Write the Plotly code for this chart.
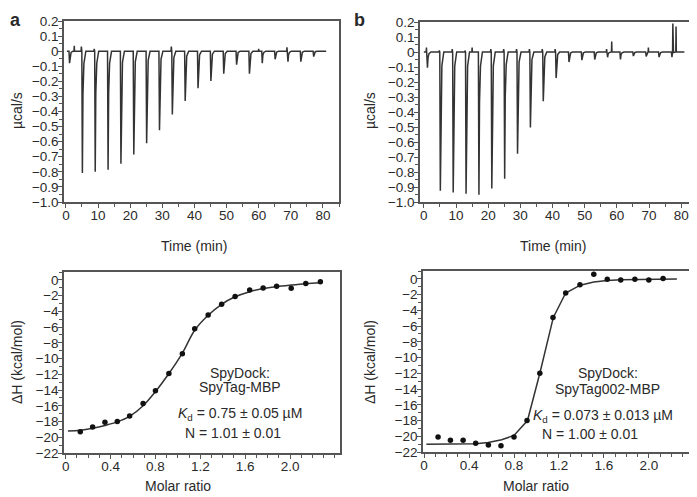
import plotly.graph_objects as go

W, H = 697, 497
OFF = 8  # page body margin: the figure is drawn 8 px right and down of the window corner

# ---- raw thermograms (injection every 4 min) ----
inj_t = [1, 5, 9, 13, 17, 21, 25, 29, 33, 37, 41, 45, 49, 53, 57, 61, 65, 69, 73, 77]
peaks_a = [-0.08, -0.808, -0.80, -0.786, -0.746, -0.685, -0.61, -0.525, -0.42, -0.33,
           -0.245, -0.197, -0.15, -0.09, -0.15, -0.08, -0.054, -0.07, -0.07, -0.036]
peaks_b = [-0.105, -0.925, -0.936, -0.945, -0.951, -0.91, -0.845, -0.678, -0.504, -0.328,
           -0.174, -0.067, -0.054, -0.05, -0.035, -0.05, -0.027, -0.03, -0.034, -0.034]

# small upward artefacts
spike_t_a = [2.6, 4.8, 8.8, 32.8, 60.0, 68.8]
spike_h_a = [0.035, 0.03, 0.015, 0.03, 0.015, 0.025]
spike_t_b = [0.8, 4.8, 8.8, 12.8, 15.0, 20.8, 24.8, 28.8, 32.8, 36.8, 40.8, 56.8, 58.4, 69.8, 77.4, 78.4]
spike_h_b = [0.03, 0.01, 0.02, 0.01, 0.03, 0.02, 0.02, 0.02, 0.02, 0.02, 0.02, 0.02, 0.07, 0.03, 0.19, 0.17]

# ---- integrated heats ----
ratio_a = [0.13, 0.24, 0.35, 0.46, 0.57, 0.69, 0.80, 0.92, 1.04, 1.15, 1.27, 1.39, 1.51,
           1.64, 1.76, 1.88, 2.01, 2.14, 2.27]
dh_a = [-19.3, -18.7, -18.1, -18.0, -17.3, -15.7, -14.1, -11.9, -9.4, -6.2, -4.45, -3.1,
        -2.1, -1.3, -1.02, -0.8, -1.06, -0.47, -0.25]
fit_x_a = [0.02, 0.13, 0.24, 0.35, 0.46, 0.57, 0.69, 0.80, 0.92, 1.04, 1.15, 1.27, 1.39,
           1.51, 1.64, 1.76, 1.88, 2.01, 2.14, 2.27]
fit_y_a = [-19.2, -19.1, -18.85, -18.5, -18.05, -17.35, -16.0, -14.2, -11.9, -9.3, -6.4,
           -4.5, -3.1, -2.15, -1.5, -1.1, -0.85, -0.65, -0.48, -0.36]

ratio_b = [0.124, 0.234, 0.347, 0.459, 0.572, 0.684, 0.80, 0.916, 1.03, 1.147, 1.26, 1.387,
           1.51, 1.63, 1.75, 1.876, 2.0, 2.127]
dh_b = [-20.1, -20.5, -20.5, -20.9, -21.1, -21.2, -20.1, -18.0, -12.0, -4.9, -1.78, -0.76,
        0.6, -0.05, -0.15, -0.05, -0.15, 0.05]
fit_x_b = [0.02, 0.13, 0.24, 0.35, 0.46, 0.57, 0.69, 0.80, 0.92, 1.03, 1.15, 1.26, 1.39,
           1.51, 1.63, 1.75, 1.88, 2.00, 2.13, 2.25]
fit_y_b = [-21.0, -21.0, -21.0, -21.0, -20.95, -20.8, -20.45, -19.9, -18.0, -12.0, -4.9,
           -1.8, -0.8, -0.4, -0.2, -0.12, -0.08, -0.05, -0.03, -0.02]

top_y_vals = [0.2, 0.1, 0, -0.1, -0.2, -0.3, -0.4, -0.5, -0.6, -0.7, -0.8, -0.9, -1.0]
top_y_text = ["0.2", "0.1", "0", "−0.1", "−0.2", "−0.3", "−0.4", "−0.5", "−0.6", "−0.7",
              "−0.8", "−0.9", "−1.0"]
bot_y_vals = [0, -2, -4, -6, -8, -10, -12, -14, -16, -18, -20, -22]
bot_y_text = ["0", "−2", "−4", "−6", "−8", "−10", "−12", "−14", "−16", "−18", "−20", "−22"]
bot_x_vals = [0, 0.4, 0.8, 1.2, 1.6, 2.0]
bot_x_text = ["0", "0.4", "0.8", "1.2", "1.6", "2.0"]


def thermogram(peaks, sp_t, sp_h, t0, t1):
    pts = [(t0, 0.0), (t1, 0.0)]
    for t, p in zip(inj_t, peaks):
        pts += [(t - 0.05, 0.0), (t + 0.12, p), (t + 0.3, 0.35 * p),
                (t + 0.6, 0.1 * p), (t + 1.2, 0.0)]
    for t, h in zip(sp_t, sp_h):
        pts += [(t - 0.08, 0.0), (t, h), (t + 0.08, 0.0)]
    pts.sort()
    return [p[0] for p in pts], [p[1] for p in pts]


FONT = "Liberation Sans, Arial, sans-serif"
TXT = "#2a2a2a"
AX = "#555555"

fig = go.Figure()

xa, ya = thermogram(peaks_a, spike_t_a, spike_h_a, 0.3, 81)
xb, yb = thermogram(peaks_b, spike_t_b, spike_h_b, 0.0, 81)
fig.add_trace(go.Scatter(x=xa, y=ya, mode="lines", line=dict(color="#333", width=1.5),
                         xaxis="x", yaxis="y"))
fig.add_trace(go.Scatter(x=xb, y=yb, mode="lines", line=dict(color="#333", width=1.5),
                         xaxis="x2", yaxis="y2"))
fig.add_trace(go.Scatter(x=fit_x_a, y=fit_y_a, mode="lines", line=dict(color="#333", width=1.5, shape="spline"),
                         xaxis="x3", yaxis="y3"))
fig.add_trace(go.Scatter(x=ratio_a, y=dh_a, mode="markers", marker=dict(color="#111", size=5.5),
                         xaxis="x3", yaxis="y3"))
fig.add_trace(go.Scatter(x=fit_x_b, y=fit_y_b, mode="lines", line=dict(color="#333", width=1.5),
                         xaxis="x4", yaxis="y4"))
fig.add_trace(go.Scatter(x=ratio_b, y=dh_b, mode="markers", marker=dict(color="#111", size=5.5),
                         xaxis="x4", yaxis="y4"))


def px_x(p):
    return (p - OFF) / W


def px_y(p):
    return 1 - (p - OFF) / H


def axis(domain, rng, anchor, standoff, **kw):
    d = dict(domain=domain, range=rng, anchor=anchor, showline=True, mirror=True,
             linecolor=AX, linewidth=1.5, ticks="outside", ticklen=4, tickwidth=1,
             tickcolor=AX, showgrid=False, zeroline=False, automargin=False,
             ticklabelstandoff=standoff,
             tickfont=dict(family=FONT, size=13.5, color=TXT))
    d.update(kw)
    return d


minor_t = dict(tickmode="linear", tick0=0, dtick=5, ticklen=3, ticks="outside", tickcolor=AX)
minor_v = dict(tickmode="linear", tick0=0, dtick=0.05, ticklen=3, ticks="outside", tickcolor=AX)
minor_r = dict(tickmode="linear", tick0=0, dtick=0.1, ticklen=3, ticks="outside", tickcolor=AX)
minor_h = dict(tickmode="linear", tick0=0, dtick=1, ticklen=3, ticks="outside", tickcolor=AX)

fig.update_layout(
    template="none",
    width=W, height=H, margin=dict(l=0, r=0, t=0, b=0, pad=0),
    paper_bgcolor="white", plot_bgcolor="white", showlegend=False,
    xaxis=axis([px_x(64), px_x(339)], [-0.6, 85], "y", -4, tickmode="linear", tick0=0, dtick=10,
               minor=minor_t),
    yaxis=axis([px_y(202), px_y(21)], [-1.0, 0.2], "x", -3, tickmode="array",
               tickvals=top_y_vals, ticktext=top_y_text, minor=minor_v),
    xaxis2=axis([px_x(420), px_x(696)], [-1.2, 84.6], "y2", -4, tickmode="linear", tick0=0, dtick=10,
                minor=minor_t),
    yaxis2=axis([px_y(202), px_y(22)], [-1.0, 0.2], "x2", -3, tickmode="array",
                tickvals=top_y_vals, ticktext=top_y_text, minor=minor_v),
    xaxis3=axis([px_x(64), px_x(340)], [-0.015, 2.445], "y3", -4, tickmode="array",
                tickvals=bot_x_vals, ticktext=bot_x_text, minor=minor_r),
    yaxis3=axis([px_y(453), px_y(272)], [-22, 1], "x3", -3, tickmode="array",
                tickvals=bot_y_vals, ticktext=bot_y_text, minor=minor_h),
    xaxis4=axis([px_x(423), px_x(696)], [-0.01, 2.42], "y4", -4, tickmode="array",
                tickvals=bot_x_vals, ticktext=bot_x_text, minor=minor_r),
    yaxis4=axis([px_y(452), px_y(271)], [-22, 1], "x4", -3, tickmode="array",
                tickvals=bot_y_vals, ticktext=bot_y_text, minor=minor_h),
)

ann = []


def label(text, x, y, size=14, rot=0, xanchor="center", yanchor="middle", xref="paper", yref="paper"):
    ann.append(dict(text=text, x=x, y=y, xref=xref, yref=yref, showarrow=False, textangle=rot,
                    xanchor=xanchor, yanchor=yanchor,
                    font=dict(family=FONT, size=size, color=TXT)))


# panel letters
label("<b>a</b>", px_x(8), px_y(8), size=18, xanchor="left", yanchor="top")
label("<b>b</b>", px_x(352), px_y(8), size=18, xanchor="left", yanchor="top")

# axis titles
label("Time (min)", 40, px_y(246), xref="x")
label("Time (min)", 40, px_y(246), xref="x2")
label("Molar ratio", 1.0, px_y(486), xref="x3")
label("Molar ratio", 1.0, px_y(486), xref="x4")
label("µcal/s", px_x(17), px_y(111), rot=-90)
label("µcal/s", px_x(370), px_y(111), rot=-90)
label("ΔH (kcal/mol)", px_x(17), px_y(362), rot=-90)
label("ΔH (kcal/mol)", px_x(370), px_y(362), rot=-90)

# fit results
label("SpyDock:", 1.553, -11.8, xref="x3", yref="y3")
label("SpyTag-MBP", 1.553, -13.6, xref="x3", yref="y3")
label("<i>K</i><sub>d</sub> = 0.75 ± 0.05 µM", 0.983, -17.0, xanchor="left", xref="x3", yref="y3")
label("N = 1.01 ± 0.01", 1.045, -19.5, xanchor="left", xref="x3", yref="y3")

label("SpyDock:", 1.636, -12.0, xref="x4", yref="y4")
label("SpyTag002-MBP", 1.636, -14.0, xref="x4", yref="y4")
label("<i>K</i><sub>d</sub> = 0.073 ± 0.013 µM", 0.951, -17.4, xanchor="left", xref="x4", yref="y4")
label("N = 1.00 ± 0.01", 1.031, -19.7, xanchor="left", xref="x4", yref="y4")

fig.update_layout(annotations=ann)

fig.write_html("out.html")
